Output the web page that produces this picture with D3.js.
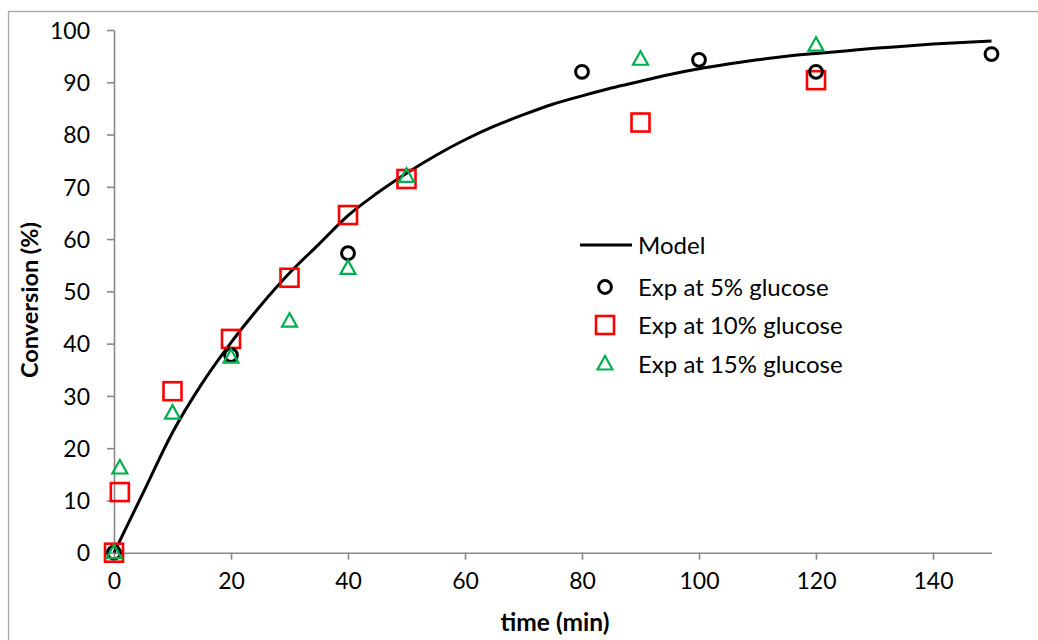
<!DOCTYPE html>
<html><head><meta charset="utf-8">
<script src="https://cdn.jsdelivr.net/npm/d3@7"></script>
<style>body{margin:0;background:#fff}svg{display:block}text{font-family:Lato,"Open Sans",sans-serif}</style>
</head><body><svg id="c" width="1038" height="640"></svg>
<script>
const xTicks=[0,20,40,60,80,100,120,140];
const yTicks=[0,10,20,30,40,50,60,70,80,90,100];
const modelT=[0,5,10,15,20,25,30,35,40,45,50,55,60,65,70,75,80,85,90,95,100,105,110,115,120,125,130,135,140,145,150];
const modelY=[0,11.5,23,32.3,40.2,47.2,53.5,59,64.5,68.8,72.6,76,79,81.6,83.8,85.8,87.4,88.9,90.2,91.5,92.6,93.5,94.3,95,95.5,96,96.5,96.9,97.3,97.6,97.9];
const exp5T=[0,20,40,80,100,120,150];
const exp5Y=[0,37.8,57.3,92,94.3,92,95.4];
const exp10T=[0,1,10,20,30,40,50,90,120];
const exp10Y=[0,11.6,30.9,40.9,52.6,64.6,71.5,82.3,90.4];
const exp15T=[0,1,10,20,30,40,50,90,120];
const exp15Y=[0,16.2,26.7,37.4,44.3,54.4,72,94.4,97.1];
const legendLabels=["Model","Exp at 5% glucose","Exp at 10% glucose","Exp at 15% glucose"];

const svg=d3.select("#c");
svg.append("rect").attr("x",8.5).attr("y",11.5).attr("width",1040).attr("height",640).attr("fill","none").attr("stroke","#a6a6a6").attr("stroke-width",1.3);
const x=d3.scaleLinear().domain([0,150]).range([114,991.5]);
const y=d3.scaleLinear().domain([0,100]).range([552.7,30]);
const axCol="#898989";
const xa=svg.append("g").attr("transform","translate(0,552.7)")
 .call(d3.axisBottom(x).tickValues(xTicks).tickSize(7).tickPadding(13).tickSizeOuter(0));
const ya=svg.append("g").attr("transform","translate(114,0)")
 .call(d3.axisLeft(y).tickValues(yTicks).tickSize(7).tickPadding(17).tickSizeOuter(0));
[xa,ya].forEach(a=>{a.selectAll("path,line").attr("stroke",axCol).attr("stroke-width",1.6);
 a.selectAll("text").attr("font-size",23).attr("fill","#000").style("font-family","Lato,'Open Sans',sans-serif");});
ya.selectAll("text").attr("dy","0.36em");

svg.append("text").attr("x",555).attr("y",631).attr("text-anchor","middle").attr("font-size",24.5).attr("font-weight","bold").text("time (min)");
svg.append("text").attr("transform","translate(38,300) rotate(-90)").attr("text-anchor","middle").attr("font-size",23.5).attr("font-weight","bold").text("Conversion (%)");

const line=d3.line().x((d,i)=>x(modelT[i])).y(d=>y(d)).curve(d3.curveMonotoneX);
svg.append("path").attr("d",line(modelY)).attr("fill","none").attr("stroke","#000").attr("stroke-width",3);

const green="#00b050", red="#ff0000";
function tri(g,cx,cy){g.append("path").attr("d",`M${cx},${cy-8}L${cx+7.5},${cy+5.5}L${cx-7.5},${cy+5.5}Z`).attr("fill","none").attr("stroke",green).attr("stroke-width",2.2);}
function sq(g,cx,cy){g.append("rect").attr("x",cx-9).attr("y",cy-9).attr("width",18).attr("height",18).attr("fill","none").attr("stroke",red).attr("stroke-width",2.6);}
function circ(g,cx,cy){g.append("circle").attr("cx",cx).attr("cy",cy).attr("r",6.4).attr("fill","none").attr("stroke","#000").attr("stroke-width",3);}

const g=svg.append("g");
exp10T.forEach((t,i)=>sq(g,x(t),y(exp10Y[i])));
exp5T.forEach((t,i)=>circ(g,x(t),y(exp5Y[i])));
exp15T.forEach((t,i)=>tri(g,x(t),y(exp15Y[i])));

const lg=svg.append("g");
const ly=[245,287,325,364];
lg.append("line").attr("x1",580).attr("x2",632).attr("y1",ly[0]).attr("y2",ly[0]).attr("stroke","#000").attr("stroke-width",3);
circ(lg,605,ly[1]); sq(lg,605,ly[2]); tri(lg,605,ly[3]);
legendLabels.forEach((s,i)=>lg.append("text").attr("x",638).attr("y",ly[i]).attr("dy","0.36em").attr("font-size",24).text(s));
</script></body></html>
